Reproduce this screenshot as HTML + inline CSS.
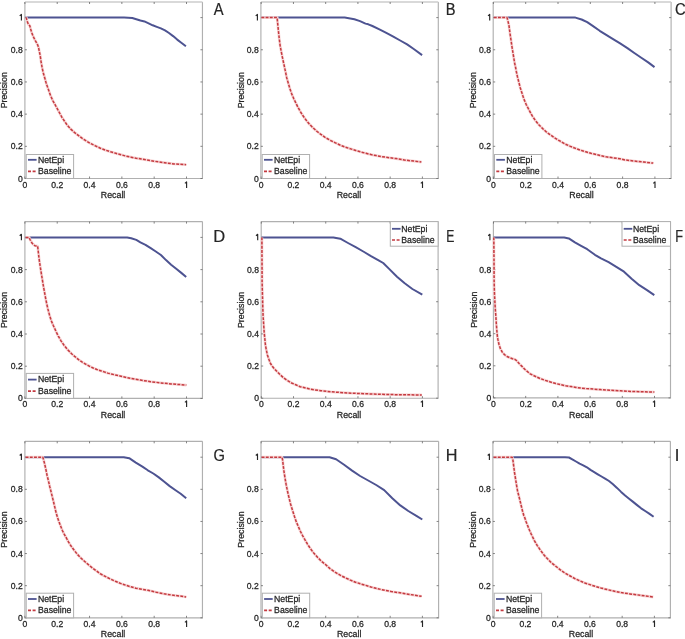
<!DOCTYPE html>
<html><head><meta charset="utf-8"><style>
html,body{margin:0;padding:0;background:#fff;}
svg{display:block;will-change:transform;}
text{font-family:"Liberation Sans",sans-serif;fill:#262626;stroke:#262626;stroke-width:0.26px;}
</style></head><body>
<svg width="685" height="639" viewBox="0 0 685 639">
<rect width="685" height="639" fill="#fff"/>
<g><path d="M24.90 2.00V178.50H202.45V2.00" fill="none" stroke="#b0b0b0" stroke-width="1.15"/><path d="M24.90 2.00H202.45" fill="none" stroke="#cccccc" stroke-width="1.3"/><path d="M24.90 178.50v-2.0M24.90 2.00v2.0M24.90 178.50h2.0M202.45 178.50h-2.0M57.22 178.50v-2.0M57.22 2.00v2.0M24.90 146.32h2.0M202.45 146.32h-2.0M89.54 178.50v-2.0M89.54 2.00v2.0M24.90 114.14h2.0M202.45 114.14h-2.0M121.86 178.50v-2.0M121.86 2.00v2.0M24.90 81.96h2.0M202.45 81.96h-2.0M154.18 178.50v-2.0M154.18 2.00v2.0M24.90 49.78h2.0M202.45 49.78h-2.0M186.50 178.50v-2.0M186.50 2.00v2.0M24.90 17.60h2.0M202.45 17.60h-2.0" stroke="#666" stroke-width="0.8" fill="none"/><text x="22.70" y="181.50" text-anchor="end" font-size="8.6">0</text><text x="24.90" y="188.00" text-anchor="middle" font-size="8.6">0</text><text x="22.70" y="149.32" text-anchor="end" font-size="8.6">0.2</text><text x="57.22" y="188.00" text-anchor="middle" font-size="8.6">0.2</text><text x="22.70" y="117.14" text-anchor="end" font-size="8.6">0.4</text><text x="89.54" y="188.00" text-anchor="middle" font-size="8.6">0.4</text><text x="22.70" y="84.96" text-anchor="end" font-size="8.6">0.6</text><text x="121.86" y="188.00" text-anchor="middle" font-size="8.6">0.6</text><text x="22.70" y="52.78" text-anchor="end" font-size="8.6">0.8</text><text x="154.18" y="188.00" text-anchor="middle" font-size="8.6">0.8</text><path d="M21.40 20.50V14.40L19.70 15.90" fill="none" stroke="#262626" stroke-width="1.15" stroke-linejoin="round"/><path d="M186.60 188.00V181.90L184.90 183.40" fill="none" stroke="#262626" stroke-width="1.15" stroke-linejoin="round"/><text x="113.08" y="198.10" text-anchor="middle" font-size="8.8">Recall</text><text transform="translate(6.90,90.25) rotate(-90)" text-anchor="middle" font-size="8.8">Precision</text><polyline points="25.4,17.6 124.1,17.6 132.3,18.0 136.3,19.2 140.4,20.5 144.5,21.4 148.6,23.3 152.7,25.3 156.8,26.9 160.9,28.4 165.0,30.4 169.0,33.0 173.1,36.1 177.2,39.6 181.3,42.7 185.9,46.3" fill="none" stroke="#4d5391" stroke-width="2" stroke-linejoin="round"/><polyline points="25.6,17.6 26.3,17.9 27.1,21.0 28.3,24.2 29.8,25.7 30.6,28.9 31.8,32.8 33.3,36.7 35.3,40.6 37.3,44.1 38.4,46.9 39.2,50.8 40.2,55.5 41.0,61.3 42.1,67.5 43.3,73.0 44.9,78.5 46.4,84.0 48.4,89.4 50.3,94.9 52.8,100.6 55.2,104.9 57.5,109.2 59.9,113.5 62.2,117.8 64.6,121.3 67.3,125.2 70.8,129.1 74.7,132.6 78.6,135.6 82.0,138.2 85.1,140.2 90.2,143.3 95.3,145.8 100.4,148.2 105.5,150.1 110.7,151.8 115.8,153.3 120.9,154.7 126.0,156.1 131.1,157.2 136.2,158.2 141.3,159.0 146.4,159.8 154.9,161.3 164.4,162.7 173.9,163.9 186.2,164.7" fill="none" stroke="#f8d6d6" stroke-width="2.8" stroke-linejoin="round"/><polyline points="25.6,17.6 26.3,17.9 27.1,21.0 28.3,24.2 29.8,25.7 30.6,28.9 31.8,32.8 33.3,36.7 35.3,40.6 37.3,44.1 38.4,46.9 39.2,50.8 40.2,55.5 41.0,61.3 42.1,67.5 43.3,73.0 44.9,78.5 46.4,84.0 48.4,89.4 50.3,94.9 52.8,100.6 55.2,104.9 57.5,109.2 59.9,113.5 62.2,117.8 64.6,121.3 67.3,125.2 70.8,129.1 74.7,132.6 78.6,135.6 82.0,138.2 85.1,140.2 90.2,143.3 95.3,145.8 100.4,148.2 105.5,150.1 110.7,151.8 115.8,153.3 120.9,154.7 126.0,156.1 131.1,157.2 136.2,158.2 141.3,159.0 146.4,159.8 154.9,161.3 164.4,162.7 173.9,163.9 186.2,164.7" fill="none" stroke="#c43a40" stroke-width="1.5" stroke-dasharray="2.9 1.3" stroke-linejoin="round"/><rect x="26.20" y="154.50" width="47.40" height="24.00" fill="#fff" stroke="#b0b0b0" stroke-width="1"/><path d="M28.00 159.80h8.6" stroke="#4d5391" stroke-width="1.8"/><path d="M28.00 171.40h8.6" stroke="#c43a40" stroke-width="1.7" stroke-dasharray="3 1.6"/><text x="38.00" y="163.00" font-size="8.7">NetEpi</text><text x="38.00" y="174.00" font-size="8.7">Baseline</text><text transform="translate(213.67,14.70) scale(0.89,1)" font-size="16.5" fill="#111" style="stroke:#111;stroke-width:0.2px">A</text></g>
<g><path d="M260.90 2.00V178.50H438.30V2.00" fill="none" stroke="#b0b0b0" stroke-width="1.15"/><path d="M260.90 2.00H438.30" fill="none" stroke="#cccccc" stroke-width="1.3"/><path d="M261.20 178.50v-2.0M261.20 2.00v2.0M260.90 178.50h2.0M438.30 178.50h-2.0M293.44 178.50v-2.0M293.44 2.00v2.0M260.90 146.32h2.0M438.30 146.32h-2.0M325.68 178.50v-2.0M325.68 2.00v2.0M260.90 114.14h2.0M438.30 114.14h-2.0M357.92 178.50v-2.0M357.92 2.00v2.0M260.90 81.96h2.0M438.30 81.96h-2.0M390.16 178.50v-2.0M390.16 2.00v2.0M260.90 49.78h2.0M438.30 49.78h-2.0M422.40 178.50v-2.0M422.40 2.00v2.0M260.90 17.60h2.0M438.30 17.60h-2.0" stroke="#666" stroke-width="0.8" fill="none"/><text x="258.70" y="181.50" text-anchor="end" font-size="8.6">0</text><text x="261.20" y="188.00" text-anchor="middle" font-size="8.6">0</text><text x="258.70" y="149.32" text-anchor="end" font-size="8.6">0.2</text><text x="293.44" y="188.00" text-anchor="middle" font-size="8.6">0.2</text><text x="258.70" y="117.14" text-anchor="end" font-size="8.6">0.4</text><text x="325.68" y="188.00" text-anchor="middle" font-size="8.6">0.4</text><text x="258.70" y="84.96" text-anchor="end" font-size="8.6">0.6</text><text x="357.92" y="188.00" text-anchor="middle" font-size="8.6">0.6</text><text x="258.70" y="52.78" text-anchor="end" font-size="8.6">0.8</text><text x="390.16" y="188.00" text-anchor="middle" font-size="8.6">0.8</text><path d="M257.40 20.50V14.40L255.70 15.90" fill="none" stroke="#262626" stroke-width="1.15" stroke-linejoin="round"/><path d="M422.50 188.00V181.90L420.80 183.40" fill="none" stroke="#262626" stroke-width="1.15" stroke-linejoin="round"/><text x="349.00" y="198.10" text-anchor="middle" font-size="8.8">Recall</text><text transform="translate(243.50,90.25) rotate(-90)" text-anchor="middle" font-size="8.8">Precision</text><polyline points="261.4,17.6 344.7,17.6 354.4,19.3 360.0,21.1 365.5,23.6 368.3,24.3 372.4,26.0 379.4,29.4 386.3,32.9 393.3,36.6 400.2,40.5 407.1,44.4 414.1,49.3 422.1,55.1" fill="none" stroke="#4d5391" stroke-width="2" stroke-linejoin="round"/><polyline points="261.4,17.6 277.2,17.6 277.4,21.0 278.0,26.5 278.6,32.8 279.3,39.0 280.1,45.3 281.1,50.8 282.2,56.3 283.4,62.0 284.4,66.7 285.6,72.2 286.7,77.7 288.3,83.2 289.9,88.6 291.8,94.1 293.8,98.8 296.1,103.5 297.5,106.4 300.3,111.5 303.0,115.8 306.1,120.1 309.3,124.0 312.8,127.6 317.1,131.5 320.5,134.1 325.1,137.4 330.2,140.3 335.3,142.8 340.4,145.2 345.5,147.2 350.7,148.9 355.8,150.5 360.9,152.0 366.0,153.3 371.1,154.6 376.2,155.6 381.3,156.6 390.0,157.8 396.0,158.6 404.4,160.0 413.9,161.1 421.4,162.0" fill="none" stroke="#f8d6d6" stroke-width="2.8" stroke-linejoin="round"/><polyline points="261.4,17.6 277.2,17.6 277.4,21.0 278.0,26.5 278.6,32.8 279.3,39.0 280.1,45.3 281.1,50.8 282.2,56.3 283.4,62.0 284.4,66.7 285.6,72.2 286.7,77.7 288.3,83.2 289.9,88.6 291.8,94.1 293.8,98.8 296.1,103.5 297.5,106.4 300.3,111.5 303.0,115.8 306.1,120.1 309.3,124.0 312.8,127.6 317.1,131.5 320.5,134.1 325.1,137.4 330.2,140.3 335.3,142.8 340.4,145.2 345.5,147.2 350.7,148.9 355.8,150.5 360.9,152.0 366.0,153.3 371.1,154.6 376.2,155.6 381.3,156.6 390.0,157.8 396.0,158.6 404.4,160.0 413.9,161.1 421.4,162.0" fill="none" stroke="#c43a40" stroke-width="1.5" stroke-dasharray="2.9 1.3" stroke-linejoin="round"/><rect x="262.20" y="154.50" width="47.40" height="24.00" fill="#fff" stroke="#b0b0b0" stroke-width="1"/><path d="M264.00 159.80h8.6" stroke="#4d5391" stroke-width="1.8"/><path d="M264.00 171.40h8.6" stroke="#c43a40" stroke-width="1.7" stroke-dasharray="3 1.6"/><text x="274.00" y="163.00" font-size="8.7">NetEpi</text><text x="274.00" y="174.00" font-size="8.7">Baseline</text><text transform="translate(445.80,14.70) scale(0.89,1)" font-size="16.5" fill="#111" style="stroke:#111;stroke-width:0.2px">B</text></g>
<g><path d="M493.20 2.00V178.50H671.10V2.00" fill="none" stroke="#b0b0b0" stroke-width="1.15"/><path d="M493.20 2.00H671.10" fill="none" stroke="#cccccc" stroke-width="1.3"/><path d="M493.40 178.50v-2.0M493.40 2.00v2.0M493.20 178.50h2.0M671.10 178.50h-2.0M525.70 178.50v-2.0M525.70 2.00v2.0M493.20 146.32h2.0M671.10 146.32h-2.0M558.00 178.50v-2.0M558.00 2.00v2.0M493.20 114.14h2.0M671.10 114.14h-2.0M590.30 178.50v-2.0M590.30 2.00v2.0M493.20 81.96h2.0M671.10 81.96h-2.0M622.60 178.50v-2.0M622.60 2.00v2.0M493.20 49.78h2.0M671.10 49.78h-2.0M654.90 178.50v-2.0M654.90 2.00v2.0M493.20 17.60h2.0M671.10 17.60h-2.0" stroke="#666" stroke-width="0.8" fill="none"/><text x="491.00" y="181.50" text-anchor="end" font-size="8.6">0</text><text x="493.40" y="188.00" text-anchor="middle" font-size="8.6">0</text><text x="491.00" y="149.32" text-anchor="end" font-size="8.6">0.2</text><text x="525.70" y="188.00" text-anchor="middle" font-size="8.6">0.2</text><text x="491.00" y="117.14" text-anchor="end" font-size="8.6">0.4</text><text x="558.00" y="188.00" text-anchor="middle" font-size="8.6">0.4</text><text x="491.00" y="84.96" text-anchor="end" font-size="8.6">0.6</text><text x="590.30" y="188.00" text-anchor="middle" font-size="8.6">0.6</text><text x="491.00" y="52.78" text-anchor="end" font-size="8.6">0.8</text><text x="622.60" y="188.00" text-anchor="middle" font-size="8.6">0.8</text><path d="M489.70 20.50V14.40L488.00 15.90" fill="none" stroke="#262626" stroke-width="1.15" stroke-linejoin="round"/><path d="M655.00 188.00V181.90L653.30 183.40" fill="none" stroke="#262626" stroke-width="1.15" stroke-linejoin="round"/><text x="581.55" y="198.10" text-anchor="middle" font-size="8.8">Recall</text><text transform="translate(476.40,90.25) rotate(-90)" text-anchor="middle" font-size="8.8">Precision</text><polyline points="493.8,17.6 575.4,17.6 581.6,19.5 587.2,22.2 592.7,25.9 599.7,30.8 606.6,35.2 613.5,39.4 620.5,43.7 627.4,48.1 634.3,53.0 641.3,57.8 648.2,62.4 654.5,67.1" fill="none" stroke="#4d5391" stroke-width="2" stroke-linejoin="round"/><polyline points="493.8,17.6 507.0,17.6 507.8,20.3 509.0,25.7 509.7,31.2 510.5,36.7 511.3,42.2 512.1,47.6 513.0,53.1 513.8,58.0 514.6,63.0 515.6,67.5 516.3,71.4 517.5,76.9 518.9,82.4 520.3,87.9 521.8,92.6 523.8,98.8 526.1,104.3 529.4,110.6 532.1,115.7 535.3,120.4 538.8,124.7 542.7,128.6 546.6,132.2 550.0,134.6 555.1,138.2 560.2,141.2 565.3,144.1 570.4,146.4 575.5,148.4 580.7,150.2 585.8,151.8 590.9,153.3 596.0,154.5 601.1,155.8 606.2,156.8 611.3,157.6 620.0,158.8 624.9,159.9 634.4,161.1 643.9,162.1 653.3,163.1" fill="none" stroke="#f8d6d6" stroke-width="2.8" stroke-linejoin="round"/><polyline points="493.8,17.6 507.0,17.6 507.8,20.3 509.0,25.7 509.7,31.2 510.5,36.7 511.3,42.2 512.1,47.6 513.0,53.1 513.8,58.0 514.6,63.0 515.6,67.5 516.3,71.4 517.5,76.9 518.9,82.4 520.3,87.9 521.8,92.6 523.8,98.8 526.1,104.3 529.4,110.6 532.1,115.7 535.3,120.4 538.8,124.7 542.7,128.6 546.6,132.2 550.0,134.6 555.1,138.2 560.2,141.2 565.3,144.1 570.4,146.4 575.5,148.4 580.7,150.2 585.8,151.8 590.9,153.3 596.0,154.5 601.1,155.8 606.2,156.8 611.3,157.6 620.0,158.8 624.9,159.9 634.4,161.1 643.9,162.1 653.3,163.1" fill="none" stroke="#c43a40" stroke-width="1.5" stroke-dasharray="2.9 1.3" stroke-linejoin="round"/><rect x="494.50" y="154.50" width="47.40" height="24.00" fill="#fff" stroke="#b0b0b0" stroke-width="1"/><path d="M496.30 159.80h8.6" stroke="#4d5391" stroke-width="1.8"/><path d="M496.30 171.40h8.6" stroke="#c43a40" stroke-width="1.7" stroke-dasharray="3 1.6"/><text x="506.30" y="163.00" font-size="8.7">NetEpi</text><text x="506.30" y="174.00" font-size="8.7">Baseline</text><text transform="translate(674.94,14.70) scale(0.9,1)" font-size="16.5" fill="#111" style="stroke:#111;stroke-width:0.2px">C</text></g>
<g><path d="M24.90 221.60V398.40H202.45V221.60" fill="none" stroke="#b0b0b0" stroke-width="1.15"/><path d="M24.90 221.60H202.45" fill="none" stroke="#b0b0b0" stroke-width="1.3"/><path d="M24.90 398.40v-2.0M24.90 221.60v2.0M24.90 398.40h2.0M202.45 398.40h-2.0M57.22 398.40v-2.0M57.22 221.60v2.0M24.90 366.20h2.0M202.45 366.20h-2.0M89.54 398.40v-2.0M89.54 221.60v2.0M24.90 334.00h2.0M202.45 334.00h-2.0M121.86 398.40v-2.0M121.86 221.60v2.0M24.90 301.80h2.0M202.45 301.80h-2.0M154.18 398.40v-2.0M154.18 221.60v2.0M24.90 269.60h2.0M202.45 269.60h-2.0M186.50 398.40v-2.0M186.50 221.60v2.0M24.90 237.40h2.0M202.45 237.40h-2.0" stroke="#666" stroke-width="0.8" fill="none"/><text x="22.70" y="401.40" text-anchor="end" font-size="8.6">0</text><text x="24.90" y="407.00" text-anchor="middle" font-size="8.6">0</text><text x="22.70" y="369.20" text-anchor="end" font-size="8.6">0.2</text><text x="57.22" y="407.00" text-anchor="middle" font-size="8.6">0.2</text><text x="22.70" y="337.00" text-anchor="end" font-size="8.6">0.4</text><text x="89.54" y="407.00" text-anchor="middle" font-size="8.6">0.4</text><text x="22.70" y="304.80" text-anchor="end" font-size="8.6">0.6</text><text x="121.86" y="407.00" text-anchor="middle" font-size="8.6">0.6</text><text x="22.70" y="272.60" text-anchor="end" font-size="8.6">0.8</text><text x="154.18" y="407.00" text-anchor="middle" font-size="8.6">0.8</text><path d="M21.40 240.30V234.20L19.70 235.70" fill="none" stroke="#262626" stroke-width="1.15" stroke-linejoin="round"/><path d="M186.60 407.00V400.90L184.90 402.40" fill="none" stroke="#262626" stroke-width="1.15" stroke-linejoin="round"/><text x="113.08" y="418.00" text-anchor="middle" font-size="8.8">Recall</text><text transform="translate(6.90,310.00) rotate(-90)" text-anchor="middle" font-size="8.8">Precision</text><polyline points="25.4,237.4 127.2,237.4 131.2,238.2 136.3,239.9 140.4,242.3 145.5,244.8 150.7,248.2 155.8,251.5 160.9,255.0 166.0,260.1 171.1,264.7 176.2,268.8 181.3,272.9 186.2,277.0" fill="none" stroke="#4d5391" stroke-width="2" stroke-linejoin="round"/><polyline points="25.6,237.4 29.0,237.4 30.2,239.8 32.2,243.3 34.9,245.7 37.6,246.1 38.0,249.2 38.6,254.7 39.4,261.0 40.2,266.4 41.2,272.7 42.2,278.8 43.5,286.7 44.5,292.2 45.5,297.7 46.6,303.2 47.8,308.6 49.4,314.6 51.2,320.5 53.3,325.5 56.0,331.4 58.3,336.1 61.0,340.8 64.2,345.5 67.7,349.8 71.6,353.7 75.0,356.7 78.6,359.6 82.3,362.2 86.0,364.3 89.6,366.3 93.2,368.0 96.9,369.5 100.5,370.7 104.2,371.9 107.8,373.1 111.5,374.1 115.1,374.9 120.0,376.0 130.2,378.3 140.4,380.1 150.7,381.7 160.9,382.9 171.1,383.9 186.4,385.1" fill="none" stroke="#f8d6d6" stroke-width="2.8" stroke-linejoin="round"/><polyline points="25.6,237.4 29.0,237.4 30.2,239.8 32.2,243.3 34.9,245.7 37.6,246.1 38.0,249.2 38.6,254.7 39.4,261.0 40.2,266.4 41.2,272.7 42.2,278.8 43.5,286.7 44.5,292.2 45.5,297.7 46.6,303.2 47.8,308.6 49.4,314.6 51.2,320.5 53.3,325.5 56.0,331.4 58.3,336.1 61.0,340.8 64.2,345.5 67.7,349.8 71.6,353.7 75.0,356.7 78.6,359.6 82.3,362.2 86.0,364.3 89.6,366.3 93.2,368.0 96.9,369.5 100.5,370.7 104.2,371.9 107.8,373.1 111.5,374.1 115.1,374.9 120.0,376.0 130.2,378.3 140.4,380.1 150.7,381.7 160.9,382.9 171.1,383.9 186.4,385.1" fill="none" stroke="#c43a40" stroke-width="1.5" stroke-dasharray="2.9 1.3" stroke-linejoin="round"/><rect x="26.20" y="373.40" width="47.40" height="25.00" fill="#fff" stroke="#b0b0b0" stroke-width="1"/><path d="M28.00 379.60h8.6" stroke="#4d5391" stroke-width="1.8"/><path d="M28.00 391.10h8.6" stroke="#c43a40" stroke-width="1.7" stroke-dasharray="3 1.6"/><text x="38.00" y="382.00" font-size="8.7">NetEpi</text><text x="38.00" y="394.00" font-size="8.7">Baseline</text><text transform="translate(213.15,241.60) scale(1.0,1)" font-size="16.5" fill="#111" style="stroke:#111;stroke-width:0.2px">D</text></g>
<g><path d="M261.20 221.60V398.20H438.10V221.60" fill="none" stroke="#b0b0b0" stroke-width="1.15"/><path d="M261.20 221.60H438.10" fill="none" stroke="#b0b0b0" stroke-width="1.3"/><path d="M261.30 398.20v-2.0M261.30 221.60v2.0M261.20 398.20h2.0M438.10 398.20h-2.0M293.52 398.20v-2.0M293.52 221.60v2.0M261.20 366.04h2.0M438.10 366.04h-2.0M325.74 398.20v-2.0M325.74 221.60v2.0M261.20 333.88h2.0M438.10 333.88h-2.0M357.96 398.20v-2.0M357.96 221.60v2.0M261.20 301.72h2.0M438.10 301.72h-2.0M390.18 398.20v-2.0M390.18 221.60v2.0M261.20 269.56h2.0M438.10 269.56h-2.0M422.40 398.20v-2.0M422.40 221.60v2.0M261.20 237.40h2.0M438.10 237.40h-2.0" stroke="#666" stroke-width="0.8" fill="none"/><text x="259.00" y="401.20" text-anchor="end" font-size="8.6">0</text><text x="261.30" y="407.00" text-anchor="middle" font-size="8.6">0</text><text x="259.00" y="369.04" text-anchor="end" font-size="8.6">0.2</text><text x="293.52" y="407.00" text-anchor="middle" font-size="8.6">0.2</text><text x="259.00" y="336.88" text-anchor="end" font-size="8.6">0.4</text><text x="325.74" y="407.00" text-anchor="middle" font-size="8.6">0.4</text><text x="259.00" y="304.72" text-anchor="end" font-size="8.6">0.6</text><text x="357.96" y="407.00" text-anchor="middle" font-size="8.6">0.6</text><text x="259.00" y="272.56" text-anchor="end" font-size="8.6">0.8</text><text x="390.18" y="407.00" text-anchor="middle" font-size="8.6">0.8</text><path d="M257.70 240.30V234.20L256.00 235.70" fill="none" stroke="#262626" stroke-width="1.15" stroke-linejoin="round"/><path d="M422.50 407.00V400.90L420.80 402.40" fill="none" stroke="#262626" stroke-width="1.15" stroke-linejoin="round"/><text x="349.05" y="417.80" text-anchor="middle" font-size="8.8">Recall</text><text transform="translate(243.80,309.90) rotate(-90)" text-anchor="middle" font-size="8.8">Precision</text><polyline points="261.6,237.4 333.4,237.4 340.3,238.7 348.0,243.0 355.7,247.2 363.3,251.5 371.0,256.1 378.6,260.3 383.2,263.0 389.4,269.1 397.0,276.7 404.7,283.3 412.4,289.0 422.3,294.7" fill="none" stroke="#4d5391" stroke-width="2" stroke-linejoin="round"/><polyline points="261.9,237.4 262.0,260.0 262.1,282.0 262.6,300.0 262.8,307.8 263.1,315.6 263.6,323.5 264.1,331.3 264.7,337.6 265.4,344.7 266.2,349.4 267.4,354.9 269.0,359.6 270.5,363.5 272.5,366.6 274.8,369.3 277.6,372.1 280.7,375.2 283.8,378.0 287.7,380.7 291.6,383.0 296.3,385.0 300.2,386.7 310.4,389.2 320.7,390.7 330.9,391.8 351.3,393.2 371.7,394.0 392.2,394.6 421.8,395.0" fill="none" stroke="#f8d6d6" stroke-width="2.8" stroke-linejoin="round"/><polyline points="261.9,237.4 262.0,260.0 262.1,282.0 262.6,300.0 262.8,307.8 263.1,315.6 263.6,323.5 264.1,331.3 264.7,337.6 265.4,344.7 266.2,349.4 267.4,354.9 269.0,359.6 270.5,363.5 272.5,366.6 274.8,369.3 277.6,372.1 280.7,375.2 283.8,378.0 287.7,380.7 291.6,383.0 296.3,385.0 300.2,386.7 310.4,389.2 320.7,390.7 330.9,391.8 351.3,393.2 371.7,394.0 392.2,394.6 421.8,395.0" fill="none" stroke="#c43a40" stroke-width="1.5" stroke-dasharray="2.9 1.3" stroke-linejoin="round"/><rect x="390.30" y="221.60" width="47.80" height="24.60" fill="#fff" stroke="#b0b0b0" stroke-width="1"/><path d="M392.00 228.80h8.6" stroke="#4d5391" stroke-width="1.8"/><path d="M392.00 240.00h8.6" stroke="#c43a40" stroke-width="1.7" stroke-dasharray="3 1.6"/><text x="401.30" y="231.50" font-size="8.7">NetEpi</text><text x="401.30" y="243.20" font-size="8.7">Baseline</text><text transform="translate(446.20,241.60) scale(0.74,1)" font-size="16.5" fill="#111" style="stroke:#111;stroke-width:0.2px">E</text></g>
<g><path d="M493.40 221.60V397.90H670.50V221.60" fill="none" stroke="#b0b0b0" stroke-width="1.15"/><path d="M493.40 221.60H670.50" fill="none" stroke="#b0b0b0" stroke-width="1.3"/><path d="M493.50 397.90v-2.0M493.50 221.60v2.0M493.40 397.90h2.0M670.50 397.90h-2.0M525.70 397.90v-2.0M525.70 221.60v2.0M493.40 365.80h2.0M670.50 365.80h-2.0M557.90 397.90v-2.0M557.90 221.60v2.0M493.40 333.70h2.0M670.50 333.70h-2.0M590.10 397.90v-2.0M590.10 221.60v2.0M493.40 301.60h2.0M670.50 301.60h-2.0M622.30 397.90v-2.0M622.30 221.60v2.0M493.40 269.50h2.0M670.50 269.50h-2.0M654.50 397.90v-2.0M654.50 221.60v2.0M493.40 237.40h2.0M670.50 237.40h-2.0" stroke="#666" stroke-width="0.8" fill="none"/><text x="491.20" y="400.90" text-anchor="end" font-size="8.6">0</text><text x="493.50" y="407.00" text-anchor="middle" font-size="8.6">0</text><text x="491.20" y="368.80" text-anchor="end" font-size="8.6">0.2</text><text x="525.70" y="407.00" text-anchor="middle" font-size="8.6">0.2</text><text x="491.20" y="336.70" text-anchor="end" font-size="8.6">0.4</text><text x="557.90" y="407.00" text-anchor="middle" font-size="8.6">0.4</text><text x="491.20" y="304.60" text-anchor="end" font-size="8.6">0.6</text><text x="590.10" y="407.00" text-anchor="middle" font-size="8.6">0.6</text><text x="491.20" y="272.50" text-anchor="end" font-size="8.6">0.8</text><text x="622.30" y="407.00" text-anchor="middle" font-size="8.6">0.8</text><path d="M489.90 240.30V234.20L488.20 235.70" fill="none" stroke="#262626" stroke-width="1.15" stroke-linejoin="round"/><path d="M654.60 407.00V400.90L652.90 402.40" fill="none" stroke="#262626" stroke-width="1.15" stroke-linejoin="round"/><text x="581.35" y="417.50" text-anchor="middle" font-size="8.8">Recall</text><text transform="translate(476.60,309.75) rotate(-90)" text-anchor="middle" font-size="8.8">Precision</text><polyline points="493.8,237.4 564.2,237.4 568.8,238.4 574.9,242.3 581.1,245.8 587.2,249.2 594.9,254.8 601.0,258.4 608.6,262.2 616.3,266.8 624.0,271.7 631.6,278.7 639.3,285.2 647.0,290.1 654.3,295.1" fill="none" stroke="#4d5391" stroke-width="2" stroke-linejoin="round"/><polyline points="493.8,237.4 494.0,260.0 494.1,280.0 494.4,292.0 494.8,300.0 495.2,307.8 495.8,315.6 496.3,323.5 496.9,331.3 497.4,336.5 497.9,339.4 499.0,344.5 500.5,348.9 502.3,352.2 504.5,354.7 507.0,356.5 509.6,357.6 512.5,358.7 515.1,359.5 516.9,360.9 519.1,363.5 522.0,366.4 525.0,369.5 530.1,373.8 535.2,376.3 540.3,378.6 545.4,380.4 550.5,382.0 555.7,383.5 560.8,384.7 565.9,385.8 571.0,386.6 576.1,387.4 581.2,388.1 586.3,388.6 590.0,388.8 600.2,389.6 610.4,390.3 620.7,390.8 630.9,391.4 641.1,391.7 654.4,392.1" fill="none" stroke="#f8d6d6" stroke-width="2.8" stroke-linejoin="round"/><polyline points="493.8,237.4 494.0,260.0 494.1,280.0 494.4,292.0 494.8,300.0 495.2,307.8 495.8,315.6 496.3,323.5 496.9,331.3 497.4,336.5 497.9,339.4 499.0,344.5 500.5,348.9 502.3,352.2 504.5,354.7 507.0,356.5 509.6,357.6 512.5,358.7 515.1,359.5 516.9,360.9 519.1,363.5 522.0,366.4 525.0,369.5 530.1,373.8 535.2,376.3 540.3,378.6 545.4,380.4 550.5,382.0 555.7,383.5 560.8,384.7 565.9,385.8 571.0,386.6 576.1,387.4 581.2,388.1 586.3,388.6 590.0,388.8 600.2,389.6 610.4,390.3 620.7,390.8 630.9,391.4 641.1,391.7 654.4,392.1" fill="none" stroke="#c43a40" stroke-width="1.5" stroke-dasharray="2.9 1.3" stroke-linejoin="round"/><rect x="622.00" y="221.60" width="48.50" height="24.60" fill="#fff" stroke="#b0b0b0" stroke-width="1"/><path d="M623.70 228.80h8.6" stroke="#4d5391" stroke-width="1.8"/><path d="M623.70 240.00h8.6" stroke="#c43a40" stroke-width="1.7" stroke-dasharray="3 1.6"/><text x="633.00" y="231.50" font-size="8.7">NetEpi</text><text x="633.00" y="243.20" font-size="8.7">Baseline</text><text transform="translate(675.16,241.60) scale(0.77,1)" font-size="16.5" fill="#111" style="stroke:#111;stroke-width:0.2px">F</text></g>
<g><path d="M24.90 441.30V617.80H202.45V441.30" fill="none" stroke="#b0b0b0" stroke-width="1.15"/><path d="M24.90 441.30H202.45" fill="none" stroke="#b0b0b0" stroke-width="1.3"/><path d="M24.90 617.80v-2.0M24.90 441.30v2.0M24.90 617.80h2.0M202.45 617.80h-2.0M57.22 617.80v-2.0M57.22 441.30v2.0M24.90 585.68h2.0M202.45 585.68h-2.0M89.54 617.80v-2.0M89.54 441.30v2.0M24.90 553.56h2.0M202.45 553.56h-2.0M121.86 617.80v-2.0M121.86 441.30v2.0M24.90 521.44h2.0M202.45 521.44h-2.0M154.18 617.80v-2.0M154.18 441.30v2.0M24.90 489.32h2.0M202.45 489.32h-2.0M186.50 617.80v-2.0M186.50 441.30v2.0M24.90 457.20h2.0M202.45 457.20h-2.0" stroke="#666" stroke-width="0.8" fill="none"/><text x="22.70" y="620.80" text-anchor="end" font-size="8.6">0</text><text x="24.90" y="627.00" text-anchor="middle" font-size="8.6">0</text><text x="22.70" y="588.68" text-anchor="end" font-size="8.6">0.2</text><text x="57.22" y="627.00" text-anchor="middle" font-size="8.6">0.2</text><text x="22.70" y="556.56" text-anchor="end" font-size="8.6">0.4</text><text x="89.54" y="627.00" text-anchor="middle" font-size="8.6">0.4</text><text x="22.70" y="524.44" text-anchor="end" font-size="8.6">0.6</text><text x="121.86" y="627.00" text-anchor="middle" font-size="8.6">0.6</text><text x="22.70" y="492.32" text-anchor="end" font-size="8.6">0.8</text><text x="154.18" y="627.00" text-anchor="middle" font-size="8.6">0.8</text><path d="M21.40 460.10V454.00L19.70 455.50" fill="none" stroke="#262626" stroke-width="1.15" stroke-linejoin="round"/><path d="M186.60 627.00V620.90L184.90 622.40" fill="none" stroke="#262626" stroke-width="1.15" stroke-linejoin="round"/><text x="113.08" y="637.40" text-anchor="middle" font-size="8.8">Recall</text><text transform="translate(6.90,529.55) rotate(-90)" text-anchor="middle" font-size="8.8">Precision</text><polyline points="25.4,457.2 123.8,457.2 129.2,458.2 132.5,460.4 135.8,462.6 142.4,466.6 147.8,470.3 153.3,473.5 158.8,477.4 164.3,481.8 169.7,486.1 175.2,490.0 180.7,493.8 186.2,498.2" fill="none" stroke="#4d5391" stroke-width="2" stroke-linejoin="round"/><polyline points="25.6,457.2 42.8,457.2 43.6,459.8 44.8,464.5 46.0,470.0 47.1,475.5 48.5,481.0 49.7,486.4 51.0,491.5 52.2,496.4 53.5,501.7 54.8,507.2 56.1,512.7 57.5,517.4 59.1,522.1 60.6,526.0 62.4,530.5 64.2,534.2 66.4,538.0 68.6,542.1 71.3,546.4 74.5,550.7 77.6,554.6 81.1,558.2 85.0,561.7 89.0,565.2 92.9,568.3 96.8,571.1 100.1,573.7 105.2,576.4 110.3,579.0 115.4,581.3 120.5,583.4 125.7,585.2 130.8,586.8 135.9,588.2 141.6,589.2 148.0,590.3 156.1,592.2 164.1,593.8 172.1,595.1 180.2,596.1 186.2,596.9" fill="none" stroke="#f8d6d6" stroke-width="2.8" stroke-linejoin="round"/><polyline points="25.6,457.2 42.8,457.2 43.6,459.8 44.8,464.5 46.0,470.0 47.1,475.5 48.5,481.0 49.7,486.4 51.0,491.5 52.2,496.4 53.5,501.7 54.8,507.2 56.1,512.7 57.5,517.4 59.1,522.1 60.6,526.0 62.4,530.5 64.2,534.2 66.4,538.0 68.6,542.1 71.3,546.4 74.5,550.7 77.6,554.6 81.1,558.2 85.0,561.7 89.0,565.2 92.9,568.3 96.8,571.1 100.1,573.7 105.2,576.4 110.3,579.0 115.4,581.3 120.5,583.4 125.7,585.2 130.8,586.8 135.9,588.2 141.6,589.2 148.0,590.3 156.1,592.2 164.1,593.8 172.1,595.1 180.2,596.1 186.2,596.9" fill="none" stroke="#c43a40" stroke-width="1.5" stroke-dasharray="2.9 1.3" stroke-linejoin="round"/><rect x="26.20" y="593.20" width="47.40" height="24.60" fill="#fff" stroke="#b0b0b0" stroke-width="1"/><path d="M28.00 599.00h8.6" stroke="#4d5391" stroke-width="1.8"/><path d="M28.00 610.40h8.6" stroke="#c43a40" stroke-width="1.7" stroke-dasharray="3 1.6"/><text x="38.00" y="602.00" font-size="8.7">NetEpi</text><text x="38.00" y="613.00" font-size="8.7">Baseline</text><text transform="translate(213.47,460.50) scale(0.89,1)" font-size="16.5" fill="#111" style="stroke:#111;stroke-width:0.2px">G</text></g>
<g><path d="M261.00 441.30V617.80H438.60V441.30" fill="none" stroke="#b0b0b0" stroke-width="1.15"/><path d="M261.00 441.30H438.60" fill="none" stroke="#b0b0b0" stroke-width="1.3"/><path d="M261.20 617.80v-2.0M261.20 441.30v2.0M261.00 617.80h2.0M438.60 617.80h-2.0M293.44 617.80v-2.0M293.44 441.30v2.0M261.00 585.68h2.0M438.60 585.68h-2.0M325.68 617.80v-2.0M325.68 441.30v2.0M261.00 553.56h2.0M438.60 553.56h-2.0M357.92 617.80v-2.0M357.92 441.30v2.0M261.00 521.44h2.0M438.60 521.44h-2.0M390.16 617.80v-2.0M390.16 441.30v2.0M261.00 489.32h2.0M438.60 489.32h-2.0M422.40 617.80v-2.0M422.40 441.30v2.0M261.00 457.20h2.0M438.60 457.20h-2.0" stroke="#666" stroke-width="0.8" fill="none"/><text x="258.80" y="620.80" text-anchor="end" font-size="8.6">0</text><text x="261.20" y="627.00" text-anchor="middle" font-size="8.6">0</text><text x="258.80" y="588.68" text-anchor="end" font-size="8.6">0.2</text><text x="293.44" y="627.00" text-anchor="middle" font-size="8.6">0.2</text><text x="258.80" y="556.56" text-anchor="end" font-size="8.6">0.4</text><text x="325.68" y="627.00" text-anchor="middle" font-size="8.6">0.4</text><text x="258.80" y="524.44" text-anchor="end" font-size="8.6">0.6</text><text x="357.92" y="627.00" text-anchor="middle" font-size="8.6">0.6</text><text x="258.80" y="492.32" text-anchor="end" font-size="8.6">0.8</text><text x="390.16" y="627.00" text-anchor="middle" font-size="8.6">0.8</text><path d="M257.50 460.10V454.00L255.80 455.50" fill="none" stroke="#262626" stroke-width="1.15" stroke-linejoin="round"/><path d="M422.50 627.00V620.90L420.80 622.40" fill="none" stroke="#262626" stroke-width="1.15" stroke-linejoin="round"/><text x="349.20" y="637.40" text-anchor="middle" font-size="8.8">Recall</text><text transform="translate(243.60,529.55) rotate(-90)" text-anchor="middle" font-size="8.8">Precision</text><polyline points="261.6,457.2 329.6,457.2 336.1,459.3 344.1,464.8 352.1,470.6 360.1,476.0 368.2,480.5 376.2,485.0 384.2,490.1 392.3,498.2 400.3,505.4 408.3,511.0 416.4,515.8 422.3,519.5" fill="none" stroke="#4d5391" stroke-width="2" stroke-linejoin="round"/><polyline points="261.6,457.2 282.0,457.2 282.6,459.8 283.3,466.1 284.1,472.3 285.1,478.6 286.2,484.9 287.5,491.1 288.9,497.3 290.6,504.1 292.5,510.3 294.5,516.6 296.4,522.1 298.4,526.8 300.5,531.5 302.6,535.6 304.8,539.5 307.5,544.2 310.6,548.9 314.2,553.6 317.7,557.5 321.6,561.4 325.5,564.5 330.0,568.6 335.1,572.2 340.2,575.2 345.3,577.8 350.4,580.1 355.5,582.2 360.7,583.9 365.8,585.4 370.9,587.0 376.0,588.3 381.1,589.5 386.2,590.5 391.3,591.6 400.0,592.8 410.7,594.6 421.6,596.3" fill="none" stroke="#f8d6d6" stroke-width="2.8" stroke-linejoin="round"/><polyline points="261.6,457.2 282.0,457.2 282.6,459.8 283.3,466.1 284.1,472.3 285.1,478.6 286.2,484.9 287.5,491.1 288.9,497.3 290.6,504.1 292.5,510.3 294.5,516.6 296.4,522.1 298.4,526.8 300.5,531.5 302.6,535.6 304.8,539.5 307.5,544.2 310.6,548.9 314.2,553.6 317.7,557.5 321.6,561.4 325.5,564.5 330.0,568.6 335.1,572.2 340.2,575.2 345.3,577.8 350.4,580.1 355.5,582.2 360.7,583.9 365.8,585.4 370.9,587.0 376.0,588.3 381.1,589.5 386.2,590.5 391.3,591.6 400.0,592.8 410.7,594.6 421.6,596.3" fill="none" stroke="#c43a40" stroke-width="1.5" stroke-dasharray="2.9 1.3" stroke-linejoin="round"/><rect x="262.30" y="593.20" width="47.40" height="24.60" fill="#fff" stroke="#b0b0b0" stroke-width="1"/><path d="M264.10 599.00h8.6" stroke="#4d5391" stroke-width="1.8"/><path d="M264.10 610.40h8.6" stroke="#c43a40" stroke-width="1.7" stroke-dasharray="3 1.6"/><text x="274.10" y="602.00" font-size="8.7">NetEpi</text><text x="274.10" y="613.00" font-size="8.7">Baseline</text><text transform="translate(445.68,460.50) scale(0.98,1)" font-size="16.5" fill="#111" style="stroke:#111;stroke-width:0.2px">H</text></g>
<g><path d="M492.90 441.30V617.80H670.40V441.30" fill="none" stroke="#b0b0b0" stroke-width="1.15"/><path d="M492.90 441.30H670.40" fill="none" stroke="#b0b0b0" stroke-width="1.3"/><path d="M493.20 617.80v-2.0M493.20 441.30v2.0M492.90 617.80h2.0M670.40 617.80h-2.0M525.44 617.80v-2.0M525.44 441.30v2.0M492.90 585.68h2.0M670.40 585.68h-2.0M557.68 617.80v-2.0M557.68 441.30v2.0M492.90 553.56h2.0M670.40 553.56h-2.0M589.92 617.80v-2.0M589.92 441.30v2.0M492.90 521.44h2.0M670.40 521.44h-2.0M622.16 617.80v-2.0M622.16 441.30v2.0M492.90 489.32h2.0M670.40 489.32h-2.0M654.40 617.80v-2.0M654.40 441.30v2.0M492.90 457.20h2.0M670.40 457.20h-2.0" stroke="#666" stroke-width="0.8" fill="none"/><text x="490.70" y="620.80" text-anchor="end" font-size="8.6">0</text><text x="493.20" y="627.00" text-anchor="middle" font-size="8.6">0</text><text x="490.70" y="588.68" text-anchor="end" font-size="8.6">0.2</text><text x="525.44" y="627.00" text-anchor="middle" font-size="8.6">0.2</text><text x="490.70" y="556.56" text-anchor="end" font-size="8.6">0.4</text><text x="557.68" y="627.00" text-anchor="middle" font-size="8.6">0.4</text><text x="490.70" y="524.44" text-anchor="end" font-size="8.6">0.6</text><text x="589.92" y="627.00" text-anchor="middle" font-size="8.6">0.6</text><text x="490.70" y="492.32" text-anchor="end" font-size="8.6">0.8</text><text x="622.16" y="627.00" text-anchor="middle" font-size="8.6">0.8</text><path d="M489.40 460.10V454.00L487.70 455.50" fill="none" stroke="#262626" stroke-width="1.15" stroke-linejoin="round"/><path d="M654.50 627.00V620.90L652.80 622.40" fill="none" stroke="#262626" stroke-width="1.15" stroke-linejoin="round"/><text x="581.05" y="637.40" text-anchor="middle" font-size="8.8">Recall</text><text transform="translate(476.10,529.55) rotate(-90)" text-anchor="middle" font-size="8.8">Precision</text><polyline points="493.6,457.2 565.0,457.2 569.0,457.5 572.3,459.3 576.0,461.5 579.6,463.7 583.2,465.3 586.9,467.3 590.5,469.9 594.2,472.1 597.8,474.3 601.5,476.5 605.1,478.6 609.0,481.0 613.0,484.2 617.0,487.9 621.1,491.9 625.1,495.5 629.1,498.7 633.1,501.9 637.1,505.1 641.1,508.3 645.2,511.0 649.2,513.6 653.6,516.8" fill="none" stroke="#4d5391" stroke-width="2" stroke-linejoin="round"/><polyline points="493.6,457.2 512.2,457.2 513.0,460.6 513.7,466.1 514.5,472.3 515.5,478.6 516.5,484.9 517.6,491.1 518.8,495.8 520.1,501.0 521.3,506.0 522.5,511.0 523.8,515.5 524.7,517.5 526.1,521.7 527.7,525.8 529.4,530.0 531.1,533.8 534.4,540.6 537.1,545.3 540.3,550.0 543.8,554.7 547.3,558.6 551.2,562.6 555.1,565.7 560.0,569.6 565.1,573.2 570.2,576.0 575.3,578.8 580.4,581.1 585.5,583.2 590.7,584.9 595.8,586.5 600.9,588.0 606.0,589.3 611.1,590.5 616.2,591.6 621.3,592.6 630.0,593.9 640.7,595.3 653.3,597.0" fill="none" stroke="#f8d6d6" stroke-width="2.8" stroke-linejoin="round"/><polyline points="493.6,457.2 512.2,457.2 513.0,460.6 513.7,466.1 514.5,472.3 515.5,478.6 516.5,484.9 517.6,491.1 518.8,495.8 520.1,501.0 521.3,506.0 522.5,511.0 523.8,515.5 524.7,517.5 526.1,521.7 527.7,525.8 529.4,530.0 531.1,533.8 534.4,540.6 537.1,545.3 540.3,550.0 543.8,554.7 547.3,558.6 551.2,562.6 555.1,565.7 560.0,569.6 565.1,573.2 570.2,576.0 575.3,578.8 580.4,581.1 585.5,583.2 590.7,584.9 595.8,586.5 600.9,588.0 606.0,589.3 611.1,590.5 616.2,591.6 621.3,592.6 630.0,593.9 640.7,595.3 653.3,597.0" fill="none" stroke="#c43a40" stroke-width="1.5" stroke-dasharray="2.9 1.3" stroke-linejoin="round"/><rect x="494.20" y="593.20" width="47.40" height="24.60" fill="#fff" stroke="#b0b0b0" stroke-width="1"/><path d="M496.00 599.00h8.6" stroke="#4d5391" stroke-width="1.8"/><path d="M496.00 610.40h8.6" stroke="#c43a40" stroke-width="1.7" stroke-dasharray="3 1.6"/><text x="506.00" y="602.00" font-size="8.7">NetEpi</text><text x="506.00" y="613.00" font-size="8.7">Baseline</text><text transform="translate(674.68,460.50) scale(1.0,1)" font-size="16.5" fill="#111" style="stroke:#111;stroke-width:0.2px">I</text></g>
</svg>
</body></html>
